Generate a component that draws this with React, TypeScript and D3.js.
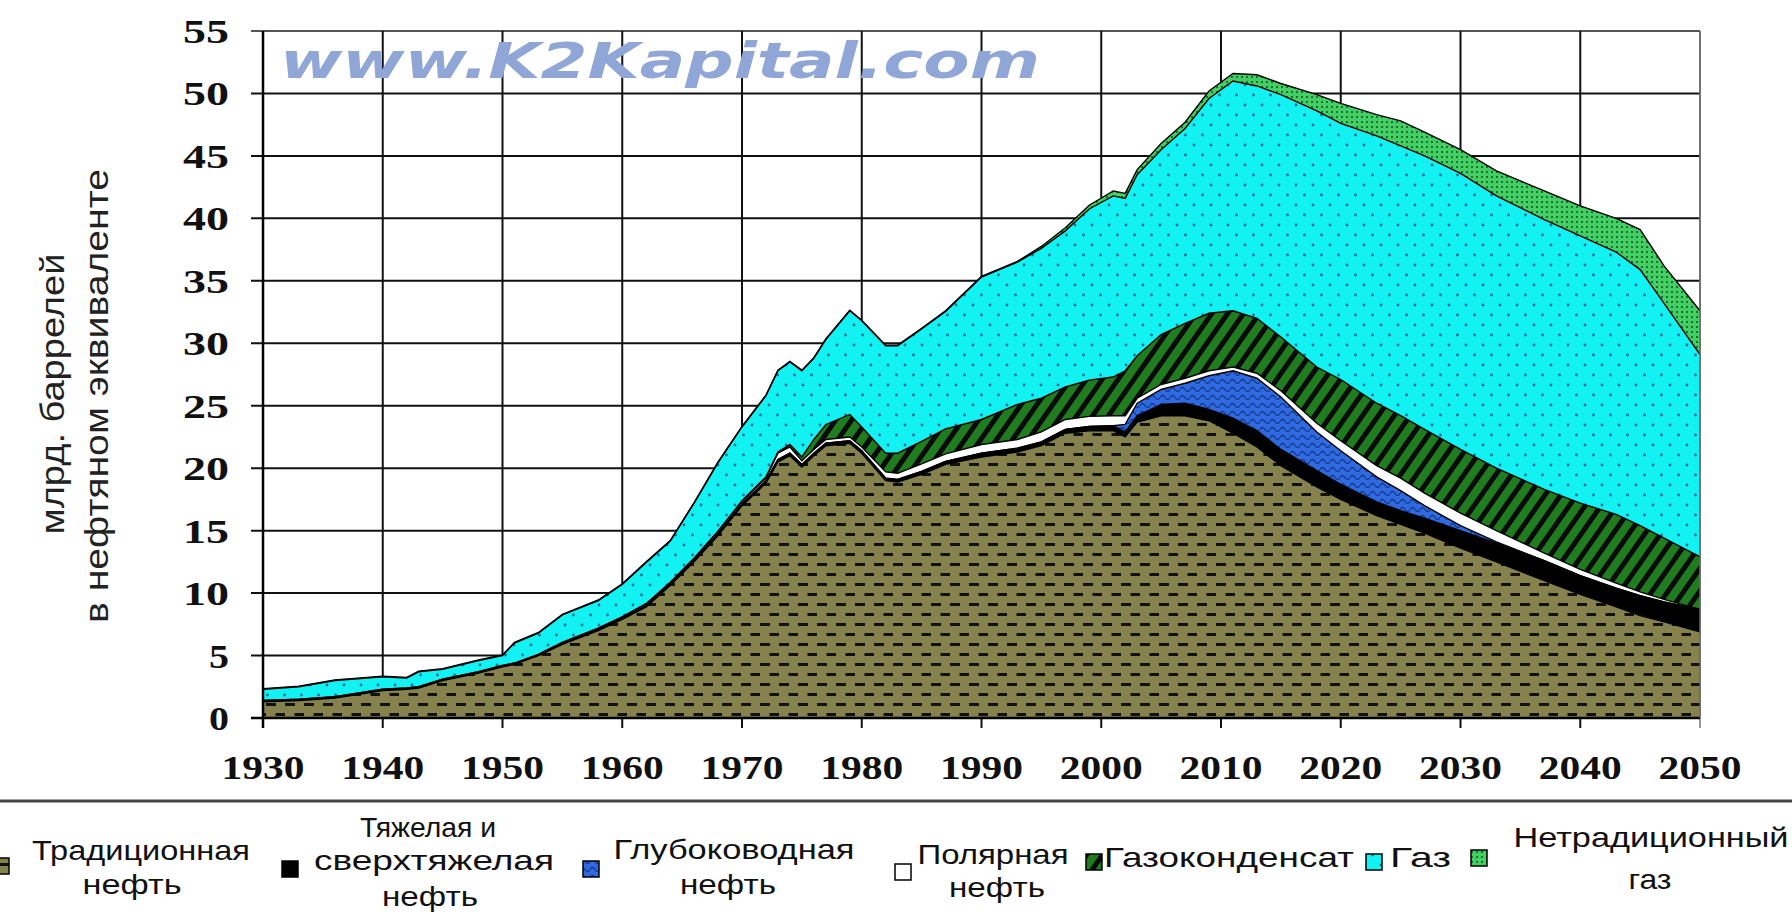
import * as d3 from "d3";

// years (irregular steps where the curves bend)
const years = [1930, 1933, 1936, 1940, 1942, 1943, 1945, 1948, 1950, 1951, 1953, 1955, 1958, 1960, 1962, 1964, 1966, 1968, 1970, 1972, 1973, 1974, 1975, 1976, 1977, 1979, 1980, 1982, 1983, 1985, 1987, 1990, 1993, 1995, 1997, 1999, 2001, 2002, 2003, 2005, 2007, 2009, 2011, 2013, 2015, 2018, 2020, 2023, 2025, 2027, 2030, 2033, 2037, 2040, 2043, 2045, 2047, 2050];

// billion barrels of oil equivalent, one value per layer
const conventional = [1.3, 1.4, 1.6, 2.2, 2.3, 2.4, 3.0, 3.6, 4.1, 4.3, 5.0, 5.9, 7.0, 7.9, 8.9, 10.6, 12.5, 14.6, 17.0, 18.8, 20.5, 21.0, 20.1, 21.0, 21.8, 22.0, 21.2, 19.0, 18.9, 19.5, 20.3, 20.9, 21.3, 21.8, 22.8, 23.0, 23.0, 22.5, 23.7, 24.2, 24.2, 23.8, 22.8, 21.7, 20.2, 18.5, 17.5, 16.2, 15.5, 14.8, 13.6, 12.5, 11.0, 9.9, 8.9, 8.2, 7.7, 6.9];
const heavy = [0.05, 0.05, 0.05, 0.05, 0.05, 0.05, 0.05, 0.05, 0.05, 0.05, 0.05, 0.05, 0.1, 0.1, 0.1, 0.1, 0.15, 0.15, 0.15, 0.2, 0.2, 0.2, 0.2, 0.2, 0.2, 0.2, 0.2, 0.2, 0.2, 0.25, 0.25, 0.3, 0.3, 0.3, 0.3, 0.35, 0.4, 0.4, 0.5, 0.9, 1.0, 0.9, 1.2, 1.3, 1.3, 1.3, 1.2, 1.1, 1.1, 1.2, 1.4, 1.5, 1.6, 1.5, 1.5, 1.6, 1.6, 1.8];
const deepwater = [0, 0, 0, 0, 0, 0, 0, 0, 0, 0, 0, 0, 0, 0, 0, 0, 0, 0, 0, 0, 0, 0, 0, 0, 0, 0, 0, 0, 0, 0, 0, 0, 0, 0, 0, 0, 0, 0.6, 1.0, 1.2, 1.6, 2.7, 3.8, 4.2, 4.2, 3.1, 2.7, 2.0, 1.6, 1.0, 0.4, 0.1, 0, 0, 0, 0, 0, 0];
const polar = [0.05, 0.05, 0.05, 0.05, 0.05, 0.05, 0.05, 0.05, 0.05, 0.05, 0.05, 0.1, 0.1, 0.1, 0.15, 0.15, 0.15, 0.2, 0.2, 0.2, 0.5, 0.5, 0.3, 0.3, 0.3, 0.3, 0.3, 0.5, 0.5, 0.6, 0.6, 0.7, 0.7, 0.8, 0.8, 0.8, 0.8, 0.7, 0.4, 0.4, 0.4, 0.4, 0.3, 0.4, 0.5, 0.7, 0.8, 0.9, 1.0, 1.0, 1.0, 0.9, 0.6, 0.5, 0.4, 0.3, 0.2, 0];
const condensate = [0, 0, 0, 0, 0, 0, 0, 0, 0, 0, 0, 0, 0, 0, 0, 0, 0, 0, 0.05, 0.1, 0.1, 0.2, 0.3, 0.8, 1.2, 1.8, 1.6, 1.5, 1.6, 1.8, 2.0, 2.0, 2.8, 2.7, 2.6, 2.9, 3.1, 3.6, 3.4, 4.0, 4.4, 4.6, 4.5, 4.4, 4.3, 4.5, 4.9, 5.0, 5.0, 5.1, 5.1, 5.0, 5.1, 5.3, 5.5, 5.3, 4.9, 4.2];
const gas = [0.9, 1.0, 1.3, 1.0, 0.8, 1.2, 0.8, 0.9, 0.8, 1.6, 1.7, 2.2, 2.2, 2.6, 3.3, 3.3, 4.4, 5.5, 5.9, 6.5, 6.5, 6.6, 6.9, 6.5, 6.8, 8.3, 8.5, 8.6, 8.6, 9.0, 9.4, 11.4, 11.4, 12.0, 12.5, 13.7, 14.5, 13.8, 14.5, 14.8, 15.6, 17.2, 18.4, 18.6, 19.4, 20.5, 20.5, 21.4, 21.6, 21.9, 22.1, 21.8, 21.6, 21.4, 21.0, 20.5, 18.8, 16.2];
const unconvGas = [0.05, 0.05, 0.05, 0.05, 0.05, 0.05, 0.05, 0.05, 0.05, 0.05, 0.05, 0.05, 0.05, 0.05, 0.05, 0.05, 0.05, 0.05, 0.05, 0.05, 0.05, 0.05, 0.05, 0.05, 0.05, 0.05, 0.05, 0.05, 0.05, 0.05, 0.05, 0.05, 0.05, 0.15, 0.25, 0.3, 0.4, 0.4, 0.4, 0.5, 0.5, 0.6, 0.6, 0.9, 0.9, 1.3, 1.6, 1.7, 2.0, 1.9, 1.9, 2.0, 2.3, 2.4, 2.7, 3.2, 3.0, 3.5];

const seriesKeys = ["conventional", "heavy", "deepwater", "polar", "condensate", "gas", "unconv"];
const legendLabels = [
    ["Традиционная", "нефть"],
    ["Тяжелая и", "сверхтяжелая", "нефть"],
    ["Глубоководная", "нефть"],
    ["Полярная", "нефть"],
    ["Газоконденсат"],
    ["Газ"],
    ["Нетрадиционный", "газ"],
];
const xTicks = [1930, 1940, 1950, 1960, 1970, 1980, 1990, 2000, 2010, 2020, 2030, 2040, 2050];
const yTicks = [0, 5, 10, 15, 20, 25, 30, 35, 40, 45, 50, 55];
const yTitle = ["млрд. баррелей", "в нефтяном эквиваленте"];
const watermark = "www.K2Kapital.com";

const fills: Record<string, string> = {
    conventional: "url(#pConv)",
    heavy: "#000000",
    deepwater: "url(#pDeep)",
    polar: "#ffffff",
    condensate: "url(#pCond)",
    gas: "url(#pGas)",
    unconv: "url(#pUnconv)",
};

export default function App() {
    const width = 1792;
    const height = 921;
    const plot = {left: 263, right: 1700, top: 31, bottom: 718};

    const x = d3.scaleLinear().domain([1930, 2050]).range([plot.left, plot.right]);
    const y = d3.scaleLinear().domain([0, 55]).range([plot.bottom, plot.top]);

    const rows = years.map((year, i) => ({
        year,
        conventional: conventional[i],
        heavy: heavy[i],
        deepwater: deepwater[i],
        polar: polar[i],
        condensate: condensate[i],
        gas: gas[i],
        unconv: unconvGas[i],
    }));
    const stacked = d3.stack<any>().keys(seriesKeys)(rows);

    const area = d3.area<any>()
        .x(d => x(d.data.year))
        .y0(d => y(d[0]))
        .y1(d => y(d[1]));
    const edge = d3.line<any>()
        .x(d => x(d.data.year))
        .y(d => y(d[1]));

    // legend layout: swatch x / centre y, then [x, baseline, width, anchor] per text line
    const legendLayout: {sx: number, sy: number, t: [number, number, number, string][]}[] = [
        {sx: -7, sy: 866, t: [[141, 860, 218, "middle"], [132, 894, 99, "middle"]]},
        {sx: 282, sy: 869, t: [[428, 837, 136, "middle"], [434, 870, 240, "middle"], [430, 906, 96, "middle"]]},
        {sx: 583, sy: 869, t: [[734, 859, 241, "middle"], [728, 894, 96, "middle"]]},
        {sx: 895, sy: 872, t: [[993, 864, 151, "middle"], [997, 897, 96, "middle"]]},
        {sx: 1086, sy: 862, t: [[1104, 867, 250, "start"]]},
        {sx: 1366, sy: 862, t: [[1390, 867, 61, "start"]]},
        {sx: 1471, sy: 858, t: [[1651, 847, 275, "middle"], [1650, 889, 43, "middle"]]},
    ];

    return (
        <svg width={width} height={height} viewBox={`0 0 ${width} ${height}`}
             style={{position: "absolute", left: 0, top: 0, background: "#fff"}}>
            <defs>
                <pattern id="pConv" patternUnits="userSpaceOnUse" width={19} height={20}>
                    <rect width={19} height={20} fill="#86824e"/>
                    <rect x={0} y={3} width={10} height={3} fill="#111"/>
                    <rect x={9.5} y={13} width={10} height={3} fill="#111"/>
                </pattern>
                <pattern id="pDeep" patternUnits="userSpaceOnUse" width={10} height={8}>
                    <rect width={10} height={8} fill="#2f6ae0"/>
                    <path d="M0,5.5 Q2.5,1.5 5,5.5 T10,5.5" stroke="#163a90" strokeWidth={1.4} fill="none"/>
                </pattern>
                <pattern id="pCond" patternUnits="userSpaceOnUse" width={13} height={13} patternTransform="rotate(35)">
                    <rect width={13} height={13} fill="#1f7d1f"/>
                    <rect x={0} y={0} width={5} height={13} fill="#0a0a0a"/>
                </pattern>
                <pattern id="pGas" patternUnits="userSpaceOnUse" width={17} height={20}>
                    <rect width={17} height={20} fill="#12f2f2"/>
                    <circle cx={4} cy={5} r={1.4} fill="#1f6f90"/>
                    <circle cx={12.5} cy={15} r={1.4} fill="#1f6f90"/>
                </pattern>
                <pattern id="pUnconv" patternUnits="userSpaceOnUse" width={5} height={5}>
                    <rect width={5} height={5} fill="#43cf63"/>
                    <rect x={1} y={1} width={2} height={2} fill="#0c5c22" opacity={0.8}/>
                </pattern>
            </defs>

            {/* grid */}
            {yTicks.map(v =>
                <line key={"gy" + v} x1={plot.left - 12} x2={plot.right} y1={y(v)} y2={y(v)}
                      stroke={v === 55 ? "#555" : "#111"} strokeWidth={2}/>
            )}
            {xTicks.map(t =>
                <line key={"gx" + t} x1={x(t)} x2={x(t)} y1={plot.top} y2={plot.bottom + 10}
                      stroke={t === 2050 ? "#777" : "#111"} strokeWidth={t === 2050 ? 1.5 : 2}/>
            )}

            {/* watermark */}
            <text x={280} y={78} fontFamily="'DejaVu Sans', sans-serif" fontWeight="bold" fontStyle="italic"
                  fontSize={50} fill="#8fa6d6" textLength={760} lengthAdjust="spacingAndGlyphs">{watermark}</text>

            {/* stacked areas */}
            {stacked.map(s =>
                <path key={s.key} d={area(s) ?? ""} fill={fills[s.key]}/>
            )}
            {stacked.map(s =>
                <path key={"e" + s.key} d={edge(s) ?? ""} fill="none" stroke="#000" strokeWidth={1.4}/>
            )}

            {/* axes */}
            <line x1={plot.left} x2={plot.left} y1={plot.top} y2={plot.bottom + 10} stroke="#000" strokeWidth={2.5}/>
            <line x1={plot.left - 12} x2={plot.right} y1={plot.bottom} y2={plot.bottom} stroke="#000" strokeWidth={2.5}/>
            <line x1={plot.right} x2={plot.right} y1={plot.top} y2={plot.bottom} stroke="#666" strokeWidth={1.5}/>

            {yTicks.map(v =>
                <text key={"ly" + v} x={229} y={y(v) + 12} textAnchor="end"
                      fontFamily="'Liberation Serif', 'Times New Roman', serif" fontWeight="bold" fontSize={34}
                      fill="#111" textLength={v < 10 ? 20 : 46} lengthAdjust="spacingAndGlyphs">{v}</text>
            )}
            {xTicks.map(t =>
                <text key={"lx" + t} x={x(t)} y={779} textAnchor="middle"
                      fontFamily="'Liberation Serif', 'Times New Roman', serif" fontWeight="bold" fontSize={34}
                      fill="#111" textLength={83} lengthAdjust="spacingAndGlyphs">{t}</text>
            )}

            {/* y title */}
            <text transform="translate(64,394) rotate(-90)" textAnchor="middle"
                  fontFamily="'Liberation Sans', Arial, sans-serif" fontSize={33} fill="#222"
                  textLength={281} lengthAdjust="spacingAndGlyphs">{yTitle[0]}</text>
            <text transform="translate(108,396) rotate(-90)" textAnchor="middle"
                  fontFamily="'Liberation Sans', Arial, sans-serif" fontSize={33} fill="#222"
                  textLength={454} lengthAdjust="spacingAndGlyphs">{yTitle[1]}</text>

            {/* legend */}
            <line x1={0} x2={width} y1={801} y2={801} stroke="#444" strokeWidth={3}/>
            {seriesKeys.map((k, i) => {
                const lay = legendLayout[i];
                return (
                    <g key={"lg" + k}>
                        <rect x={lay.sx} y={lay.sy - 8} width={16} height={16} fill={fills[k]}
                              stroke="#000" strokeWidth={1.5}/>
                        {legendLabels[i].map((txt, j) =>
                            <text key={j} x={lay.t[j][0]} y={lay.t[j][1]} textAnchor={lay.t[j][3]}
                                  fontFamily="'Liberation Sans', Arial, sans-serif" fontSize={28} fill="#111"
                                  textLength={lay.t[j][2]} lengthAdjust="spacingAndGlyphs">{txt}</text>
                        )}
                    </g>
                )
            })}
        </svg>
    )
}
